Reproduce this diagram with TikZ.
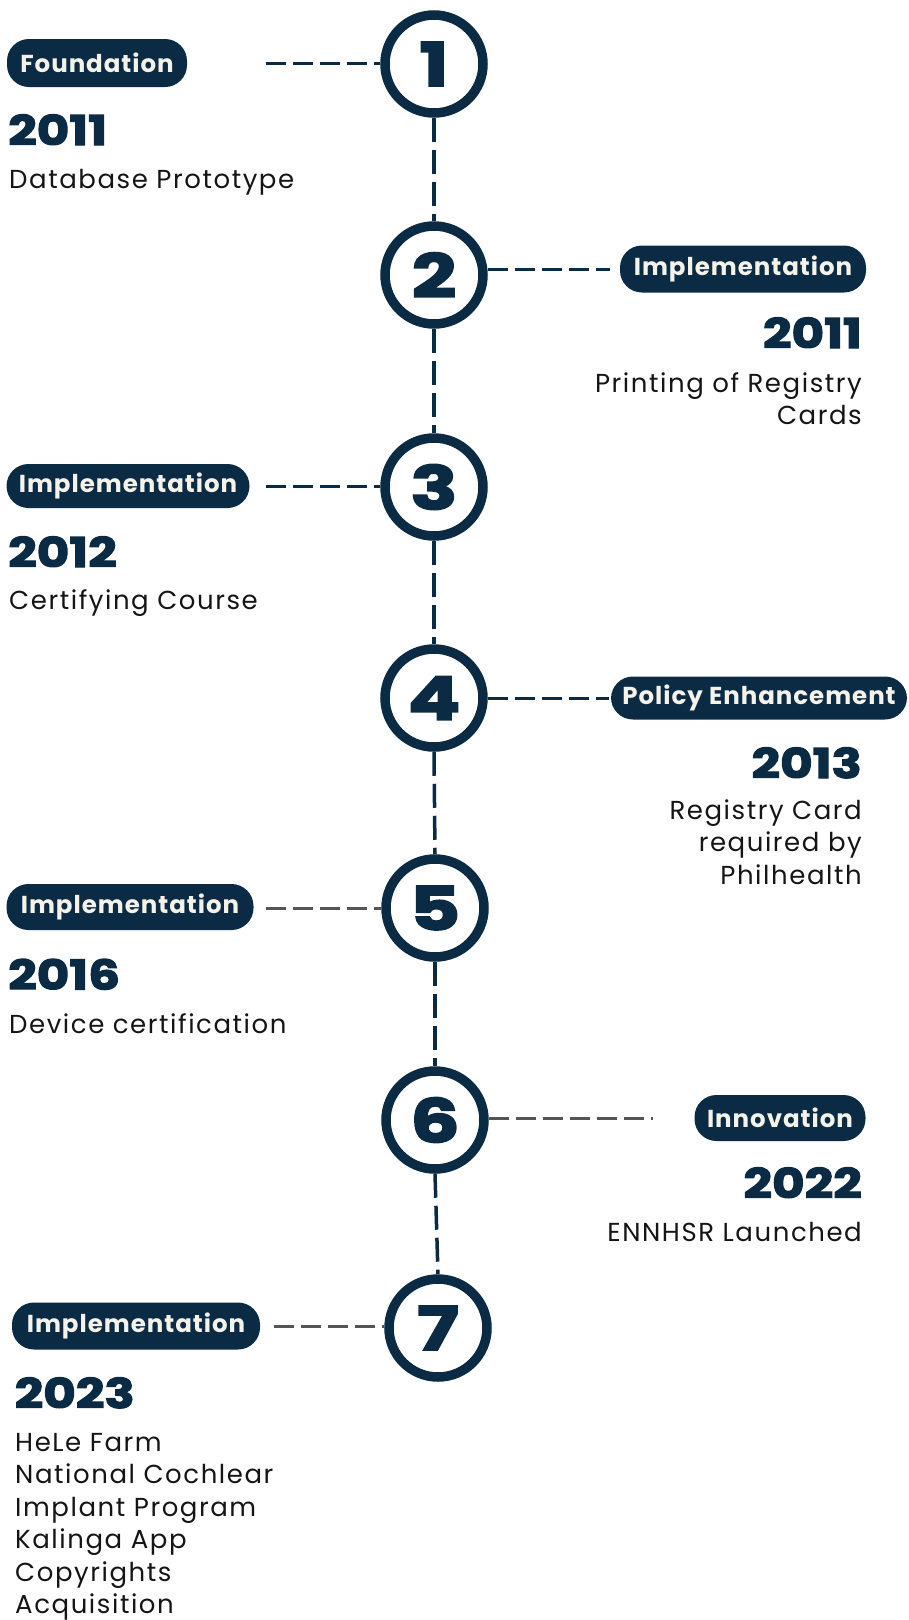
\documentclass[tikz,border=0pt]{standalone}
\usepackage{fontspec}
\setmainfont{Poppins}[LetterSpace=6]
\newfontfamily\yearfont[FakeBold=3,FakeStretch=1.22]{Poppins Bold}
\newfontfamily\numfont[FakeBold=3,FakeStretch=1.3]{Poppins Bold}
\newfontfamily\pillfont[LetterSpace=4]{Poppins Bold}
\definecolor{navy}{HTML}{0B2B45}
\definecolor{dgray}{HTML}{555555}
\definecolor{cream}{HTML}{F5F2EA}
\definecolor{ink}{HTML}{151515}
\begin{document}
\begin{tikzpicture}[x=1pt,y=-1pt,
  stepcircle/.style={circle, draw=navy, line width=9.5pt, minimum size=98pt, inner sep=0pt, text=navy,
    font=\numfont\fontsize{60}{60}\selectfont},
  pill/.style={fill=navy, text=cream, rounded corners=22pt, minimum height=46pt, inner sep=0pt,
    font=\pillfont\fontsize{24.5}{24.5}\selectfont},
  yearL/.style={anchor=base west, inner sep=0pt, text=navy, font=\yearfont\fontsize{41}{41}\selectfont},
  yearR/.style={anchor=base east, inner sep=0pt, text=navy, font=\yearfont\fontsize{41}{41}\selectfont},
  descL/.style={anchor=base west, inner sep=0pt, text=ink, align=left, font=\fontsize{26}{32.4}\selectfont},
  descR/.style={anchor=base east, inner sep=0pt, text=ink, align=right, font=\fontsize{26}{32.4}\selectfont},
  hdash/.style={draw=navy, line width=3pt, dash pattern=on 20pt off 7pt},
  hdashg/.style={draw=dgray, line width=3pt, dash pattern=on 20pt off 7pt},
  vdash/.style={draw=navy, line width=3.5pt, dash pattern=on 24pt off 8pt}]
\useasboundingbox (0,0) rectangle (909,1620);
% circles
\node[stepcircle] (c1) at (434,64) {1};
\node[stepcircle] (c2) at (434,275) {2};
\node[stepcircle] (c3) at (434,487) {3};
\node[stepcircle] (c4) at (434,698) {4};
\node[stepcircle] (c5) at (435,908) {5};
\node[stepcircle] (c6) at (435,1120) {6};
\node[stepcircle] (c7) at (438,1328) {7};
% vertical connectors
\draw[vdash] (c1.south) -- (c2.north);
\draw[vdash] (c2.south) -- (c3.north);
\draw[vdash] (c3.south) -- (c4.north);
\draw[vdash] (c4.south) -- (c5.north);
\draw[vdash] (c5.south) -- (c6.north);
\draw[vdash] (c6.south) -- (c7.north);
% pills
\node[pill, minimum width=180pt, minimum height=48pt] (p1) at (97,63) {Foundation};
\node[pill, minimum width=246pt, minimum height=47pt] (p2) at (743,269) {Implementation};
\node[pill, minimum width=243pt, minimum height=44pt] (p3) at (128,486) {Implementation};
\node[pill, minimum width=296pt, minimum height=43pt] (p4) at (759,698) {Policy Enhancement};
\node[pill, minimum width=247pt] (p5) at (130,907) {Implementation};
\node[pill, minimum width=171pt] (p6) at (780,1118) {Innovation};
\node[pill, minimum width=248pt, minimum height=47pt] (p7) at (136,1326) {Implementation};
% horizontal connectors
\coordinate (d1) at (266,63);
\coordinate (d2) at (610,269);
\coordinate (d3) at (266,486);
\coordinate (d4) at (609,698);
\coordinate (d5) at (266,908);
\coordinate (d6) at (653,1118);
\coordinate (d7) at (274,1326);
\draw[hdash] (d1) -- (c1.west |- d1);
\draw[hdash] (c2.east |- d2) -- (d2);
\draw[hdash] (d3) -- (c3.west |- d3);
\draw[hdash] (c4.east |- d4) -- (d4);
\draw[hdashg] (d5) -- (c5.west |- d5);
\draw[hdashg] (c6.east |- d6) -- (d6);
\draw[hdashg] (d7) -- (c7.west |- d7);
% years and descriptions (multi-line nodes: base = last line)
\node[yearL] (y1) at (8,145) {2011};
\node[descL] (t1) at (9,188) {Database Prototype};
\node[yearR] (y2) at (862,348) {2011};
\node[descR] (t2) at (862,424.5) {Printing of Registry\\Cards};
\node[yearL] (y3) at (8,567) {2012};
\node[descL] (t3) at (9,609.5) {Certifying Course};
\node[yearR] (y4) at (862,778) {2013};
\node[descR] (t4) at (862,884) {Registry Card\\required by\\Philhealth};
\node[yearL] (y5) at (8,989.5) {2016};
\node[descL] (t5) at (9,1033) {Device certification};
\node[yearR] (y6) at (862,1198) {2022};
\node[descR] (t6) at (862,1241.6) {ENNHSR Launched};
\node[yearL] (y7) at (14.5,1408) {2023};
\node[descL] (t7) at (15,1613.5) {HeLe Farm\\National Cochlear\\Implant Program\\Kalinga App\\Copyrights\\Acquisition};
\end{tikzpicture}
\end{document}
